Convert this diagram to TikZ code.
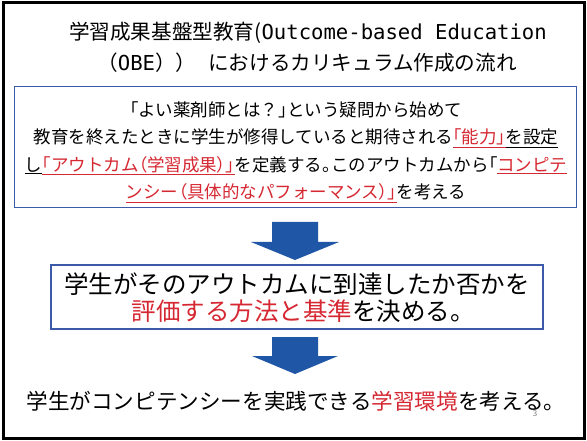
\documentclass[tikz,border=0pt]{standalone}
\usepackage{fontspec}
\usetikzlibrary{calc}
\setmainfont{Noto Sans CJK JP}
\newfontfamily\pfont{Noto Sans CJK JP}[RawFeature=+palt]
\newfontfamily\monof{DejaVu Sans Mono}
\definecolor{obered}{RGB}{214,40,50}
\definecolor{obeblue}{RGB}{60,90,170}
\definecolor{arrowblue}{RGB}{32,86,166}
\newcommand{\redul}[1]{{\color{obered}\underline{#1}}}
\newcommand{\blkul}[1]{\underline{#1}}
\newcommand{\lk}{{\pfont 「}}
\newcommand{\rk}{{\pfont 」}}
\newcommand{\lpar}{{\pfont （}}
\newcommand{\rpar}{{\pfont ）}}
\newcommand{\kuten}{{\pfont 。}}
\tikzset{
  titletext/.style={font=\fontsize{20.6}{24}\selectfont, inner sep=0pt},
  boxa/.style={draw=obeblue, line width=1pt, inner sep=0pt},
  boxb/.style={draw=obeblue, line width=2.2pt, inner sep=0pt},
  bodytext/.style={font=\fontsize{17.5}{27.4}\selectfont, align=center, inner sep=0pt},
  bigtext/.style={font=\fontsize{24.5}{27}\selectfont, align=center, inner sep=0pt},
  bottomtext/.style={font=\fontsize{21.6}{26}\selectfont, inner sep=0pt},
  blockarrow/.style={fill=arrowblue}
}
\begin{document}
\begin{tikzpicture}[x=1pt,y=-1pt]
\useasboundingbox (0,0) rectangle (587,441);
\fill[white] (0,0) rectangle (587,441);
\draw[line width=3pt] (3,3) rectangle (584,438);
% title
\node[titletext] (t1) at (308,33) {学習成果基盤型教育({\monof Outcome-based Education}};
\node[titletext] (t2) at (307,63) {（{\monof OBE}））\hspace{12pt}における\hspace{0pt}カリキュラム作成の流れ};
% box 1
\node[boxa, minimum width=562pt, minimum height=121pt] (box1) at (295,147.5) {};
\node[bodytext] (b1) at (296,152) {\lk よい薬剤師とは？\rk という疑問から始めて\\
教育を終えたときに学生が修得していると期待される\redul{\lk 能力\rk}\blkul{を設定}\\
\blkul{し}\redul{\lk アウトカム\lpar 学習成果\rpar\rk}を定義する\kuten このアウトカムから\lk\redul{コンピテ}\\
\redul{ンシー\lpar 具体的なパフォーマンス\rpar\rk}を考える};
% arrow 1
\coordinate (a1) at (295,222);
\fill[blockarrow] ($(a1)+(-23,0)$) -- ($(a1)+(23,0)$) -- ($(a1)+(23,20)$)
  -- ($(a1)+(44,20)$) -- ($(a1)+(0,38)$) -- ($(a1)+(-44,20)$)
  -- ($(a1)+(-23,20)$) -- cycle;
% box 2
\node[boxb, minimum width=492pt, minimum height=64pt] (box2) at (297,297) {};
\node[bigtext] (b2) at (297,298) {学生がそのアウトカムに到達したか否かを\\
{\color{obered}評価する方法と基準}を決める\kuten};
% arrow 2
\coordinate (a2) at (295,337);
\fill[blockarrow] ($(a2)+(-23,0)$) -- ($(a2)+(23,0)$) -- ($(a2)+(23,19)$)
  -- ($(a2)+(43,19)$) -- ($(a2)+(0,37)$) -- ($(a2)+(-43,19)$)
  -- ($(a2)+(-23,19)$) -- cycle;
% bottom text
\node[bottomtext] (b3) at (296,401) {学生がコンピテンシーを実践できる{\color{obered}学習環境}を考える。};
\node[font=\fontsize{8}{9}\selectfont, text=gray, inner sep=0pt] (pg) at (535,414) {3};
\end{tikzpicture}
\end{document}
